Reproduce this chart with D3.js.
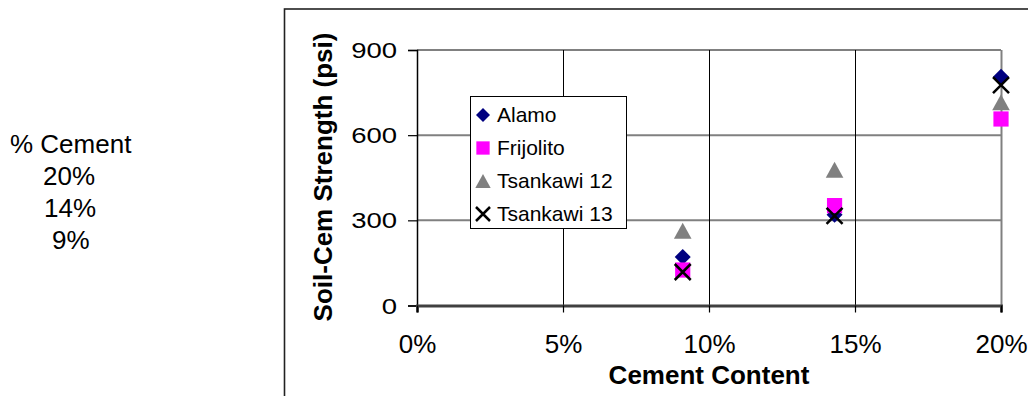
<!DOCTYPE html>
<html>
<head>
<meta charset="utf-8">
<script src="https://cdn.jsdelivr.net/npm/d3@7"></script>
<style>
  body { margin: 0; background: #fff; }
  svg { display: block; font-family: Arial, "Liberation Sans", sans-serif; }
</style>
</head>
<body>
<svg id="chart" width="1028" height="396"></svg>
<script>
// values
var series = ["Alamo", "Frijolito", "Tsankawi 12", "Tsankawi 13"]
var cement = [0.091, 0.143, 0.20]
var alamo = [171, 320, 806]
var frijolito = [125, 352, 657]
var tsankawi12 = [263, 478, 716]
var tsankawi13 = [118, 316, 776]
var sideNotes = ["% Cement", "20%", "14%", "9%"]
var xTicks = [0, 0.05, 0.10, 0.15, 0.20]
var yTicks = [0, 300, 600, 900]

var allValues = [alamo, frijolito, tsankawi12, tsankawi13]
var colors = ["#000080", "#ff00ff", "#808080", "#000000"]
var shapes = ["diamond", "square", "triangle", "cross"]

var svg = d3.select("#chart")
var fontFam = "Arial, 'Liberation Sans', sans-serif"

// plot box (note: "top" is reserved on window, so use other names)
var plotLeft = 417, plotRight = 1001, plotTop = 50, plotBottom = 305.5

var x = d3.scaleLinear().domain([0, 0.2]).range([plotLeft, plotRight])
var y = d3.scaleLinear().domain([0, 900]).range([plotBottom, plotTop])

// outer chart border (right and bottom run past the window)
svg.append("rect")
  .attr("x", 284.5).attr("y", 9)
  .attr("width", 760).attr("height", 400)
  .style("fill", "none").style("stroke", "#222").style("stroke-width", 1.6)

// side notes at the left
var noteX = [10, 43, 44, 52]
svg.selectAll(".note")
  .data(sideNotes)
  .enter().append("text")
  .attr("x", function(d, i) { return noteX[i] })
  .attr("y", function(d, i) { return 153 + i * 32 })
  .style("font-size", "26px")
  .text(function(d) { return d })

// horizontal gridlines
svg.selectAll(".hgrid")
  .data(yTicks.filter(function(d) { return d > 0 }))
  .enter().append("line")
  .attr("x1", plotLeft).attr("x2", plotRight)
  .attr("y1", function(d) { return y(d) })
  .attr("y2", function(d) { return y(d) })
  .style("stroke", "#808080").style("stroke-width", 2)

// vertical gridlines
svg.selectAll(".vgrid")
  .data(xTicks.filter(function(d) { return d > 0 && d < 0.2 }))
  .enter().append("line")
  .attr("y1", plotTop).attr("y2", plotBottom)
  .attr("x1", function(d) { return Math.round(x(d)) + 0.5 })
  .attr("x2", function(d) { return Math.round(x(d)) + 0.5 })
  .style("stroke", "#000").style("stroke-width", 1)

// right border of plot area
svg.append("line")
  .attr("x1", plotRight + 0.5).attr("x2", plotRight + 0.5)
  .attr("y1", plotTop).attr("y2", plotBottom)
  .style("stroke", "#808080").style("stroke-width", 2)

// y axis - labels in the picture are wide and a bit flat
var yAxis = d3.axisLeft(y).tickValues(yTicks).tickSize(9)
var gy = svg.append("g").attr("transform", "translate(" + plotLeft + ",0)").call(yAxis)
gy.attr("font-size", 22).attr("font-family", fontFam)
gy.select(".domain").style("stroke", "#000").style("stroke-width", 1.5)
gy.selectAll(".tick line").style("stroke", "#000").style("stroke-width", 1.2)
gy.selectAll("text")
  .attr("x", null).attr("dy", null)
  .attr("transform", "translate(-20,7.5) scale(1.25,0.98)")
  .attr("fill", "#000")

// x axis
var xAxis = d3.axisBottom(x).tickValues(xTicks).tickSize(7).tickFormat(d3.format(".0%"))
var gx = svg.append("g").attr("transform", "translate(0," + plotBottom + ")").call(xAxis)
gx.attr("font-size", 26).attr("font-family", fontFam)
gx.select(".domain").style("stroke", "#404040").style("stroke-width", 3)
gx.selectAll(".tick line").style("stroke", "#000").style("stroke-width", 1.2)
gx.selectAll("text")
  .attr("y", 47.5).attr("dy", null)
  .attr("fill", "#000")

// axis titles
svg.append("text")
  .attr("x", x(0.1)).attr("y", 384)
  .attr("text-anchor", "middle")
  .style("font-size", "26px").style("font-weight", "bold")
  .text("Cement Content")

svg.append("text")
  .attr("transform", "translate(332,177) rotate(-90)")
  .attr("text-anchor", "middle")
  .style("font-size", "26px").style("font-weight", "bold")
  .text("Soil-Cem Strength (psi)")

// draw one marker, s = half size
function drawMarker(g, i, cx, cy, s) {
  var p
  if (shapes[i] == "diamond") {
    p = "M" + cx + "," + (cy - s) + "L" + (cx + s) + "," + cy + "L" + cx + "," + (cy + s) + "L" + (cx - s) + "," + cy + "Z"
  } else if (shapes[i] == "square") {
    var q = s * 0.95
    p = "M" + (cx - q) + "," + (cy - q) + "h" + (2 * q) + "v" + (2 * q) + "h" + (-2 * q) + "Z"
  } else if (shapes[i] == "triangle") {
    p = "M" + cx + "," + (cy - s) + "L" + (cx + s * 1.1) + "," + (cy + s) + "L" + (cx - s * 1.1) + "," + (cy + s) + "Z"
  } else {
    p = "M" + (cx - s) + "," + (cy - s) + "L" + (cx + s) + "," + (cy + s) +
        "M" + (cx - s) + "," + (cy + s) + "L" + (cx + s) + "," + (cy - s)
  }
  g.append("path")
    .attr("d", p)
    .style("fill", shapes[i] == "cross" ? "none" : colors[i])
    .style("stroke", shapes[i] == "cross" ? colors[i] : "none")
    .style("stroke-width", 2.5)
}

// points
var pts = svg.append("g")
allValues.forEach(function(vals, i) {
  vals.forEach(function(v, j) {
    drawMarker(pts, i, x(cement[j]), y(v), 8)
  })
})

// legend
var lg = svg.append("g")
lg.append("rect")
  .attr("x", 470.5).attr("y", 96.5).attr("width", 156).attr("height", 132)
  .style("fill", "#fff").style("stroke", "#000").style("stroke-width", 1)

series.forEach(function(name, i) {
  var base = 122 + i * 33
  drawMarker(lg, i, 483, base - 7, 7)
  lg.append("text")
    .attr("x", 497).attr("y", base)
    .style("font-size", "21px")
    .text(name)
})
</script>
</body>
</html>
